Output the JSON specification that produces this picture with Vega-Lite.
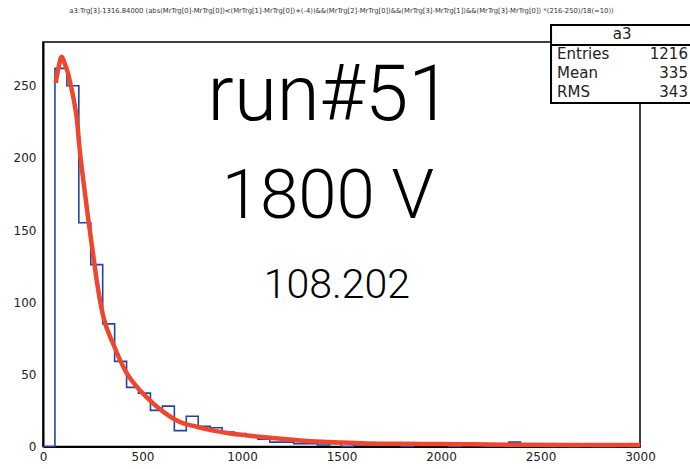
{
  "$schema": "https://vega.github.io/schema/vega-lite/v6.json",
  "width": 597,
  "height": 404.5,
  "autosize": {"type": "none"},
  "padding": {"left": 43, "top": 42, "right": 50, "bottom": 22.5},
  "background": "white",
  "config": {
    "view": {"stroke": "black", "strokeWidth": 1.5},
    "font": "DejaVu Sans"
  },
  "title": {
    "text": "a3:Trg[3]-1316.84000 (abs(MrTrg[0]-MrTrg[0])<(MrTrg[1]-MrTrg[0])+(-4))&&(MrTrg[2]-MrTrg[0])&&(MrTrg[3]-MrTrg[1])&&(MrTrg[3]-MrTrg[0]) *(216-250)/18(=10))",
    "font": "DejaVu Sans",
    "fontSize": 6.8,
    "fontWeight": "normal",
    "color": "#333",
    "anchor": "middle",
    "frame": "group",
    "offset": 9
  },
  "datasets": {
    "hist": [
      {"x": 0, "y": 0}, {"x": 60, "y": 262}, {"x": 120, "y": 250}, {"x": 180, "y": 155},
      {"x": 240, "y": 126}, {"x": 300, "y": 85}, {"x": 360, "y": 59}, {"x": 420, "y": 41},
      {"x": 480, "y": 37}, {"x": 540, "y": 25}, {"x": 600, "y": 28}, {"x": 660, "y": 11},
      {"x": 720, "y": 21}, {"x": 780, "y": 14}, {"x": 840, "y": 13}, {"x": 900, "y": 10},
      {"x": 960, "y": 9}, {"x": 1020, "y": 7}, {"x": 1080, "y": 5}, {"x": 1140, "y": 3},
      {"x": 1200, "y": 3}, {"x": 1260, "y": 2}, {"x": 1320, "y": 2}, {"x": 1380, "y": 1},
      {"x": 1440, "y": 2}, {"x": 1500, "y": 0}, {"x": 1560, "y": 1}, {"x": 1620, "y": 1},
      {"x": 1680, "y": 1}, {"x": 1740, "y": 1}, {"x": 1800, "y": 0}, {"x": 1860, "y": 1},
      {"x": 1920, "y": 1}, {"x": 1980, "y": 1}, {"x": 2040, "y": 0}, {"x": 2100, "y": 1},
      {"x": 2160, "y": 1}, {"x": 2220, "y": 0}, {"x": 2280, "y": 1}, {"x": 2340, "y": 3},
      {"x": 2400, "y": 0}, {"x": 2460, "y": 1}, {"x": 2520, "y": 0}, {"x": 2580, "y": 1},
      {"x": 2640, "y": 0}, {"x": 2700, "y": 1}, {"x": 2760, "y": 0}, {"x": 2820, "y": 0},
      {"x": 2880, "y": 1}, {"x": 2940, "y": 0}, {"x": 3000, "y": 0}
    ],
    "fit": [
      {"x": 64, "y": 252}, {"x": 80, "y": 264}, {"x": 94, "y": 270}, {"x": 110, "y": 265},
      {"x": 125, "y": 259}, {"x": 140, "y": 250}, {"x": 155, "y": 240}, {"x": 170, "y": 227},
      {"x": 185, "y": 205}, {"x": 202, "y": 185}, {"x": 228, "y": 157}, {"x": 253, "y": 132},
      {"x": 270, "y": 115}, {"x": 303, "y": 90}, {"x": 353, "y": 71}, {"x": 420, "y": 51},
      {"x": 487, "y": 39}, {"x": 537, "y": 32}, {"x": 605, "y": 24}, {"x": 688, "y": 17},
      {"x": 772, "y": 13.7}, {"x": 856, "y": 11}, {"x": 940, "y": 9}, {"x": 1023, "y": 7.7},
      {"x": 1140, "y": 6}, {"x": 1290, "y": 4.2}, {"x": 1400, "y": 3.3}, {"x": 1500, "y": 2.8},
      {"x": 1600, "y": 2.3}, {"x": 1800, "y": 1.9}, {"x": 2000, "y": 1.7}, {"x": 2160, "y": 1.5},
      {"x": 2400, "y": 1.2}, {"x": 2700, "y": 1.1}, {"x": 3000, "y": 1}
    ],
    "labels": [
      {"label": "run#51", "x": 1440, "y": 226.3, "kind": "run"},
      {"label": "1800 V", "x": 1432, "y": 158.4, "kind": "volt"},
      {"label": "108.202", "x": 1477, "y": 102.9, "kind": "value"}
    ],
    "box": [
      {"x": 2553, "x2": 3320, "y": 238, "y2": 292.1}
    ],
    "boxline": [
      {"x": 2553, "x2": 3320, "y": 278.2}
    ],
    "boxtext": [
      {"label": "a3", "x": 2910, "y": 282.4, "role": "header"},
      {"label": "Entries", "x": 2583, "y": 268.5, "role": "name"},
      {"label": "Mean", "x": 2583, "y": 255.7, "role": "name"},
      {"label": "RMS", "x": 2583, "y": 241.9, "role": "name"},
      {"label": "1216", "x": 3241, "y": 268.5, "role": "value"},
      {"label": "335", "x": 3241, "y": 255.7, "role": "value"},
      {"label": "343", "x": 3241, "y": 241.9, "role": "value"}
    ]
  },
  "encoding": {
    "x": {
      "field": "x", "type": "quantitative",
      "scale": {"domain": [0, 3000], "nice": false, "zero": false},
      "axis": {
        "title": null, "grid": false,
        "values": [0,100,200,300,400,500,600,700,800,900,1000,1100,1200,1300,1400,1500,1600,1700,1800,1900,2000,2100,2200,2300,2400,2500,2600,2700,2800,2900,3000],
        "format": "d",
        "labelExpr": "datum.value % 500 === 0 ? datum.label : ''",
        "tickSize": 0, "labelPadding": 5,
        "labelFont": "DejaVu Sans", "labelFontSize": 12, "labelColor": "#222",
        "labelFlush": false, "labelOverlap": false, "labelBound": false,
        "domainColor": "black", "domainWidth": 2,
        "tickColor": "black", "tickWidth": 1.5,
        "encode": {"ticks": {"update": {"y2": {"signal": "datum.value % 500 === 0 ? -12 : -6"}}}}
      }
    },
    "y": {
      "field": "y", "type": "quantitative",
      "scale": {"domain": [0, 280.3], "nice": false, "zero": false},
      "axis": {
        "title": null, "grid": false,
        "values": [0,10,20,30,40,50,60,70,80,90,100,110,120,130,140,150,160,170,180,190,200,210,220,230,240,250,260,270,280],
        "format": "d",
        "labelExpr": "datum.value % 50 === 0 ? datum.label : ''",
        "tickSize": 0, "labelPadding": 7,
        "labelFont": "DejaVu Sans", "labelFontSize": 12, "labelColor": "#222",
        "labelFlush": false, "labelOverlap": false, "labelBound": false,
        "domainColor": "black", "domainWidth": 2,
        "tickColor": "black", "tickWidth": 1.5,
        "encode": {"ticks": {"update": {"x2": {"signal": "datum.value % 50 === 0 ? 19 : 10"}}}}
      }
    }
  },
  "layer": [
    {
      "data": {"name": "hist"},
      "mark": {"type": "line", "interpolate": "step-after", "color": "#2443a6", "strokeWidth": 1.6}
    },
    {
      "data": {"name": "fit"},
      "mark": {"type": "line", "interpolate": "monotone", "color": "#ef472e", "strokeWidth": 4.5}
    },
    {
      "data": {"name": "labels"},
      "transform": [{"filter": "datum.kind === 'run'"}],
      "mark": {"type": "text", "align": "center", "baseline": "alphabetic", "font": "Roboto", "fontWeight": 300, "fontSize": 78, "color": "black"},
      "encoding": {"text": {"field": "label"}}
    },
    {
      "data": {"name": "labels"},
      "transform": [{"filter": "datum.kind === 'volt'"}],
      "mark": {"type": "text", "align": "center", "baseline": "alphabetic", "font": "Roboto", "fontWeight": 300, "fontSize": 69, "color": "black"},
      "encoding": {"text": {"field": "label"}}
    },
    {
      "data": {"name": "labels"},
      "transform": [{"filter": "datum.kind === 'value'"}],
      "mark": {"type": "text", "align": "center", "baseline": "alphabetic", "font": "Roboto", "fontWeight": 300, "fontSize": 41, "color": "black"},
      "encoding": {"text": {"field": "label"}}
    },
    {
      "data": {"name": "box"},
      "mark": {"type": "rect", "fill": "white", "stroke": "black", "strokeWidth": 2},
      "encoding": {"x2": {"field": "x2"}, "y2": {"field": "y2"}}
    },
    {
      "data": {"name": "boxline"},
      "mark": {"type": "rule", "color": "black", "strokeWidth": 2},
      "encoding": {"x2": {"field": "x2"}}
    },
    {
      "data": {"name": "boxtext"},
      "transform": [{"filter": "datum.role === 'header'"}],
      "mark": {"type": "text", "align": "center", "baseline": "alphabetic", "font": "DejaVu Sans", "fontSize": 15, "color": "#222"},
      "encoding": {"text": {"field": "label"}}
    },
    {
      "data": {"name": "boxtext"},
      "transform": [{"filter": "datum.role === 'name'"}],
      "mark": {"type": "text", "align": "left", "baseline": "alphabetic", "font": "DejaVu Sans", "fontSize": 15, "color": "#222"},
      "encoding": {"text": {"field": "label"}}
    },
    {
      "data": {"name": "boxtext"},
      "transform": [{"filter": "datum.role === 'value'"}],
      "mark": {"type": "text", "align": "right", "baseline": "alphabetic", "font": "DejaVu Sans", "fontSize": 15, "color": "#222"},
      "encoding": {"text": {"field": "label"}}
    }
  ]
}
